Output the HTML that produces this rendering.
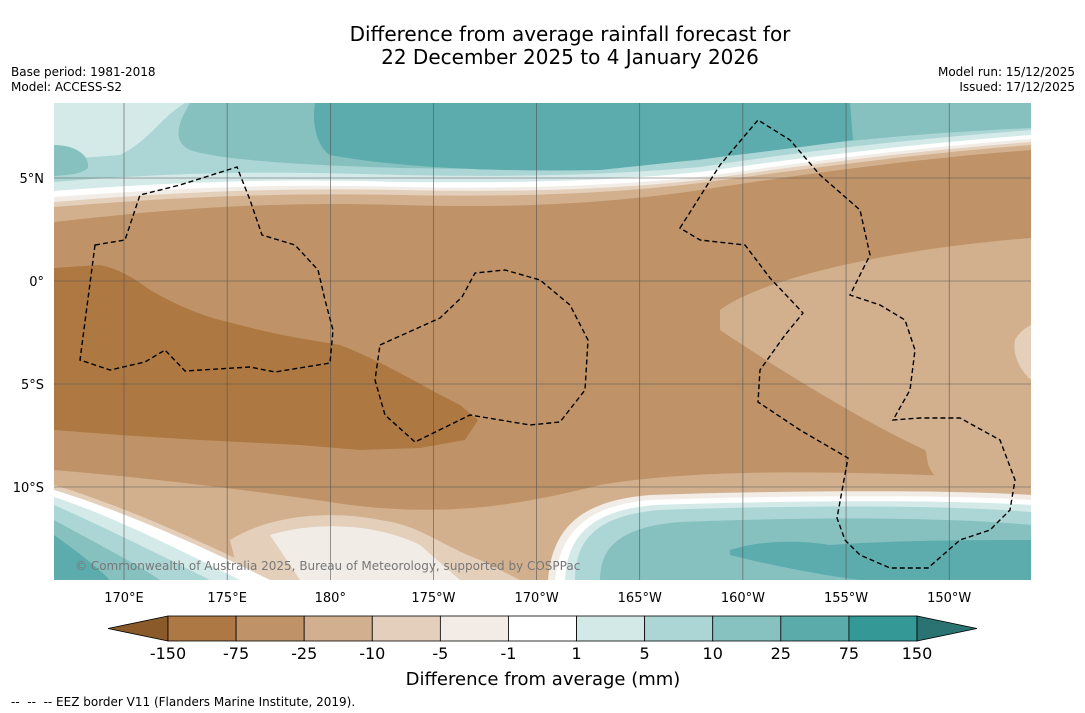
<!DOCTYPE html>
<html><head><meta charset="utf-8">
<style>
body{margin:0;background:#fff;font-family:"DejaVu Sans","Liberation Sans",sans-serif;}
svg{display:block;font-family:"DejaVu Sans","Liberation Sans",sans-serif;}
</style></head>
<body>
<svg id="chart" width="1085" height="713" viewBox="0 0 1085 713">
<rect width="1085" height="713" fill="#fff"/>
<text x="570" y="41" font-size="20" text-anchor="middle">Difference from average rainfall forecast for</text>
<text x="570" y="64" font-size="20" text-anchor="middle">22 December 2025 to 4 January 2026</text>
<text x="11" y="76" font-size="12">Base period: 1981-2018</text>
<text x="11" y="91" font-size="12">Model: ACCESS-S2</text>
<text x="1075" y="76" font-size="12" text-anchor="end">Model run: 15/12/2025</text>
<text x="1075" y="91" font-size="12" text-anchor="end">Issued: 17/12/2025</text>

<defs><clipPath id="mapclip"><rect x="54" y="103" width="977" height="477"/></clipPath></defs>
<g clip-path="url(#mapclip)">
<rect x="54" y="103" width="977" height="477" fill="#bf9367"/>
<path d="M54,103 H1031 V150 C900,160 800,175 700,190 C600,205 500,208 400,205 C300,202 200,205 54,222 Z" fill="#d2b08e"/>
<path d="M54,103 H1031 V145 C900,155 800,170 700,183 C600,195 500,197 400,195 C300,193 200,195 54,207 Z" fill="#e4cfbb"/>
<path d="M54,103 H1031 V142 C900,152 800,166 700,180 C600,191 500,192 400,190 C300,188 200,190 54,202 Z" fill="#f2ece6"/>
<path d="M54,103 H1031 V139 C900,149 800,163 700,177 C600,187 500,189 400,187 C300,184 200,186 54,197 Z" fill="#ffffff"/>
<path d="M54,103 H1031 V135 C900,145 800,158 700,172 C600,182 500,183 400,182 C300,179 200,180 54,191 Z" fill="#d4eae9"/>
<path d="M54,103 H1031 V130 C900,140 800,152 700,167 C600,176 500,177 400,175 C300,172 200,170 54,182 Z" fill="#acd6d5"/>
<path d="M54,103 H1031 V128 C900,134 800,145 700,160 C600,168 500,170 400,168 C300,165 220,160 190,150 C170,140 180,120 190,103 Z" fill="#86c1c0"/>
<path d="M54,103 H185 C160,118 150,140 120,155 L54,160 Z" fill="#d4eae9"/>
<path d="M54,145 C75,145 90,155 88,168 C80,175 65,175 54,176 Z" fill="#86c1c0"/>
<path d="M315,103 H850 L853,140 C780,150 700,160 600,170 C500,172 400,168 330,155 C315,145 312,120 315,103 Z" fill="#5cacad"/>
<path d="M720,310 C760,280 880,250 1031,238 V500 L940,480 C925,470 928,455 925,450 C860,420 780,370 720,330 Z" fill="#d2b08e"/>
<path d="M1015,340 C1020,330 1031,325 1031,325 V380 C1020,370 1012,355 1015,340 Z" fill="#e4cfbb"/>
<path d="M54,268 L100,265 C115,268 130,275 150,290 C170,302 200,315 220,320 C250,328 280,335 310,340 L340,345 C380,360 420,385 460,405 L478,420 L465,440 L420,448 L360,450 L300,445 L200,440 L120,435 L54,430 Z" fill="#ad7842"/>
<path d="M54,470 C150,478 250,490 350,505 C450,517 520,505 600,485 C700,468 850,470 1031,480 V580 H54 Z" fill="#d2b08e"/>
<path d="M230,540 C270,515 330,510 380,520 C420,525 440,545 480,560 L520,580 H240 Z" fill="#e4cfbb"/>
<path d="M270,535 C320,520 380,525 420,545 L460,580 H300 Z" fill="#f2ece6"/>
<path d="M54,485 C120,505 200,540 280,580 H54 Z" fill="#e4cfbb"/>
<path d="M54,490 C120,510 200,545 270,580 H54 Z" fill="#ffffff"/>
<path d="M54,497 C110,515 180,550 240,580 H54 Z" fill="#d4eae9"/>
<path d="M54,505 C100,525 160,555 210,580 H54 Z" fill="#acd6d5"/>
<path d="M54,520 C90,540 130,560 160,580 H54 Z" fill="#86c1c0"/>
<path d="M54,535 C75,550 95,565 110,580 H54 Z" fill="#5cacad"/>
<path d="M548,580 C552,525 585,500 650,495 C800,490 950,490 1031,495 V580 Z" fill="#f2ece6"/>
<path d="M555,580 C560,530 590,505 650,500 C800,495 950,495 1031,500 V580 Z" fill="#ffffff"/>
<path d="M565,580 C567,533 595,510 655,505 C800,500 950,500 1031,505 V580 Z" fill="#d4eae9"/>
<path d="M575,580 C575,537 600,515 660,510 C800,505 950,505 1031,512 V580 Z" fill="#acd6d5"/>
<path d="M600,580 C600,547 620,527 680,522 C800,517 950,517 1031,525 V580 Z" fill="#86c1c0"/>
<path d="M730,550 C760,540 800,540 830,545 C900,540 980,540 1031,540 V580 H860 C820,575 770,565 730,555 Z" fill="#5cacad"/>
<g id="grid" stroke="#555" stroke-width="0.6"></g>
<g fill="none" stroke="#000" stroke-width="1.4" stroke-dasharray="5,3">
<polygon points="95,245 125,240 140,195 180,185 237,167 250,200 262,235 295,245 318,270 325,300 333,330 330,363 275,372 250,367 185,371 165,350 145,362 110,370 80,360"/>
<polygon points="380,345 440,318 462,297 475,273 505,270 540,280 570,305 588,340 585,390 560,422 530,425 470,415 415,442 385,415 375,380"/>
<polygon points="680,228 720,165 758,120 790,140 820,175 860,210 870,255 850,295 880,305 905,320 915,350 910,390 893,420 920,418 960,418 1000,440 1015,480 1010,510 990,530 960,540 928,568 890,568 860,555 845,540 837,518 848,458 800,430 758,402 760,370 785,335 803,313 770,278 745,245 700,240"/>
</g>
<text x="75" y="570" font-size="12" fill="#777">© Commonwealth of Australia 2025, Bureau of Meteorology, supported by COSPPac</text>
</g>
<g id="lonlabels" font-size="13" text-anchor="middle"></g>
<g id="latlabels" font-size="13" text-anchor="end"></g>
<g id="cbar"></g>
<text x="543" y="685" font-size="18" text-anchor="middle">Difference from average (mm)</text>
<text x="11" y="706" font-size="12">-- &#160;-- &#160;-- EEZ border V11 (Flanders Marine Institute, 2019).</text>
</svg>
<script>
const lonLabels=["170°E","175°E","180°","175°W","170°W","165°W","160°W","155°W","150°W"];
const lonValues=[170,175,180,185,190,195,200,205,210];
const latLabels=["5°N","0°","5°S","10°S"];
const latValues=[5,0,-5,-10];
const cbarLevels=["-150","-75","-25","-10","-5","-1","1","5","10","25","75","150"];
const cbarColors=["#ad7843","#bf9267","#d2af8f","#e4cfbc","#f3ece6","#ffffff","#d3e9e8","#acd6d5","#87c1c0","#5babab","#339896"];
const NS="http://www.w3.org/2000/svg";
const xOf=lon=>124+(lon-170)*20.63;
const yOf=lat=>281-lat*20.6;
const grid=document.getElementById('grid'),lonG=document.getElementById('lonlabels'),latG=document.getElementById('latlabels'),cb=document.getElementById('cbar');
function mk(t,a){const e=document.createElementNS(NS,t);for(const k in a)e.setAttribute(k,a[k]);return e;}
lonValues.forEach((v,i)=>{const x=xOf(v);
 const l=mk('line',{x1:x,x2:x,y1:103,y2:580});
 
 
 grid.appendChild(l);
 const t=mk('text',{x:x,y:602});t.textContent=lonLabels[i];
 
 
 lonG.appendChild(t);});
latValues.forEach((v,i)=>{const y=yOf(v);
 const l=mk('line',{x1:54,x2:1031,y1:y,y2:y});
 
 
 grid.appendChild(l);
 const t=mk('text',{x:44,y:y+5});t.textContent=latLabels[i];
 
 
 latG.appendChild(t);});
const cx0=168,cx1=917,cy=616,ch=25,bw=(cx1-cx0)/cbarColors.length;
const lt=mk('polygon',{points:`108,${cy+ch/2} ${cx0},${cy} ${cx0},${cy+ch}`,fill:'#8b5a2b',stroke:'#000','stroke-width':0.8});


cb.appendChild(lt);
cbarColors.forEach((c,i)=>{const r=mk('rect',{x:cx0+i*bw,y:cy,width:bw,height:ch,fill:c,stroke:'#000','stroke-width':0.8});
 
 
 cb.appendChild(r);});
const rt=mk('polygon',{points:`977,${cy+ch/2} ${cx1},${cy} ${cx1},${cy+ch}`,fill:'#2b7372',stroke:'#000','stroke-width':0.8});


cb.appendChild(rt);
cbarLevels.forEach((s,i)=>{const t=mk('text',{x:cx0+i*bw,y:659,'font-size':16,'text-anchor':'middle'});t.textContent=s;
 
 
 cb.appendChild(t);});
</script>
</body></html>
